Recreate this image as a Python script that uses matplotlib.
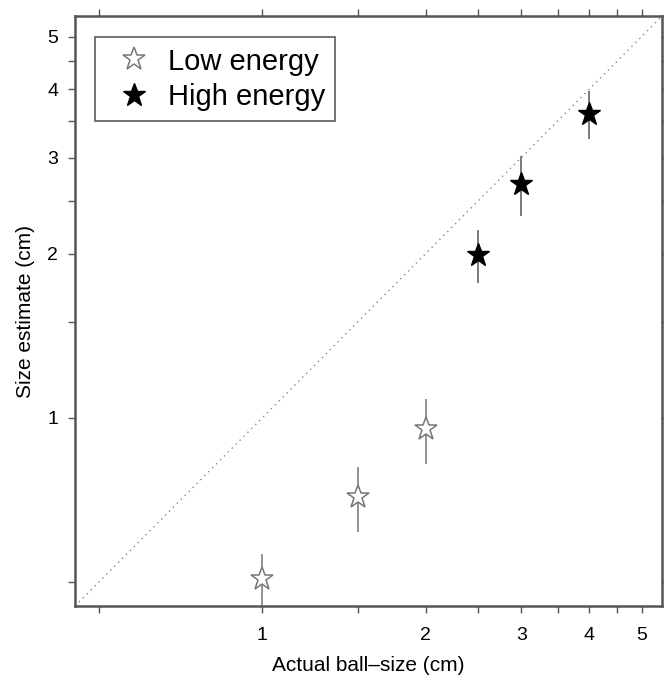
import matplotlib.pyplot as plt
from matplotlib.ticker import FixedLocator, NullFormatter

plt.rcParams['font.family'] = ['Liberation Sans', 'DejaVu Sans']

# low energy
low_x = [1.0, 1.5, 2.0]
low_y = [0.507, 0.716, 0.954]
low_err = [0.055, 0.097, 0.13]
# high energy
high_x = [2.5, 3.0, 4.0]
high_y = [1.99, 2.68, 3.61]
high_err = [0.22, 0.34, 0.37]

major = [1, 2, 3, 4, 5]
minor = [0.5, 1.5, 2.5, 3.5, 4.5]
lim = (0.452, 5.45)

fig = plt.figure(figsize=(6.64, 6.82), dpi=100)
ax = fig.add_axes([0.113, 0.1114, 0.884, 0.865])
ax.set_xscale('log')
ax.set_yscale('log')

ax.plot(lim, lim, color='#888888', linestyle=(0, (1, 3)), linewidth=1)

ax.errorbar(low_x, low_y, yerr=low_err, fmt='none', ecolor='#8a8a8a', elinewidth=1.3)
ax.errorbar(high_x, high_y, yerr=high_err, fmt='none', ecolor='#707070', elinewidth=1.3)
ax.plot(low_x, low_y, linestyle='none', marker='*', markersize=17,
        markerfacecolor='white', markeredgecolor='#777777', markeredgewidth=1.1,
        label='Low energy')
ax.plot(high_x, high_y, linestyle='none', marker='*', markersize=17,
        markerfacecolor='black', markeredgecolor='black', label='High energy')

ax.set_xlim(lim)
ax.set_ylim(lim)
for axis in (ax.xaxis, ax.yaxis):
    axis.set_major_locator(FixedLocator(major))
    axis.set_minor_locator(FixedLocator(minor))
    axis.set_minor_formatter(NullFormatter())
ax.set_xticklabels([str(v) for v in major])
ax.set_yticklabels([str(v) for v in major])
ax.tick_params(which='both', direction='out', length=5, width=1, color='#555555',
               labelsize=14, top=True, right=True)
ax.tick_params(axis='x', pad=10)
ax.tick_params(axis='y', pad=7)
for s in ax.spines.values():
    s.set_color('#555555')
    s.set_linewidth(1.8)

ax.set_xlabel('Actual ball\u2013size (cm)', fontsize=15, labelpad=9)
ax.set_ylabel('Size estimate (cm)', fontsize=15, labelpad=9)

leg = ax.legend(loc='upper left', bbox_to_anchor=(0.034, 0.964), fontsize=21,
                frameon=True, fancybox=False, handletextpad=0.15,
                borderpad=0.35, labelspacing=0.25, handlelength=2.0,
                borderaxespad=0)
leg.get_frame().set_edgecolor('#333333')
leg.get_frame().set_linewidth(1.2)

fig.savefig('out.png', dpi=100)
